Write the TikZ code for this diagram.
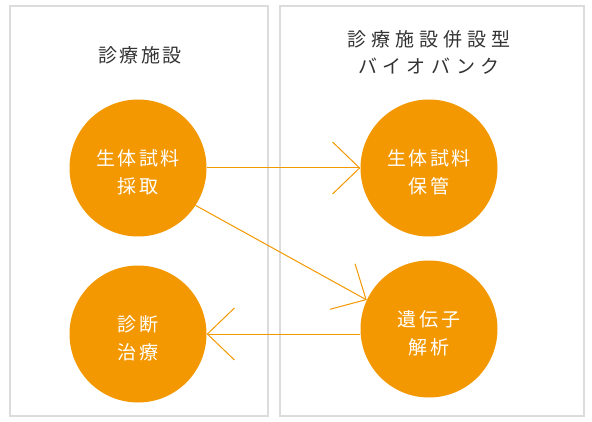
\documentclass[tikz,border=0pt]{standalone}
\usepackage{fontspec}
\usetikzlibrary{arrows.meta}
\newfontfamily\jp[LetterSpace=14]{Noto Sans CJK JP}
\newfontfamily\jpwide[LetterSpace=27]{Noto Sans CJK JP}
\definecolor{bborange}{HTML}{F39800}
\definecolor{panelgray}{HTML}{DCDCDC}
\definecolor{titlegray}{HTML}{333333}
\begin{document}
\begin{tikzpicture}[
  x=1pt, y=-1pt,
  panel/.style={draw=panelgray, line width=1.4pt},
  title/.style={
    text=titlegray,
    align=center
  },
  stage/.style={
    circle,
    fill=bborange,
    text=white,
    minimum size=137pt,
    inner sep=0pt,
    align=center,
    text height=52pt,
    font=\jp\fontsize{19pt}{28pt}\selectfont
  },
  arrow/.style={draw=bborange, line width=1pt,
    -{Straight Barb[length=27pt,width=52pt]}}
]
\useasboundingbox (0,0) rectangle (592,422);
\draw[panel] (10,6) rectangle (268,416);
\draw[panel] (280,6) rectangle (584,416);

\node[title, font=\jp\fontsize{19pt}{27pt}\selectfont] (clinic) at (140,55) {診療施設};
\node[title, font=\jpwide\fontsize{19pt}{27pt}\selectfont] (biobank) at (429,52) {診療施設併設型\\バイオバンク};

\node[stage] (collect) at (138,168) {生体試料\\採取};
\node[stage] (store) at (429,168) {生体試料\\保管};
\node[stage] (dna) at (429,329) {遺伝子\\解析};
\node[stage] (diag) at (138,334) {診断\\治療};

\draw[arrow] (collect.east) -- (store.west);
\draw[arrow] (collect.-33) -- (dna.155);
\draw[arrow] (dna.west |- diag) -- (diag);
\end{tikzpicture}
\end{document}
